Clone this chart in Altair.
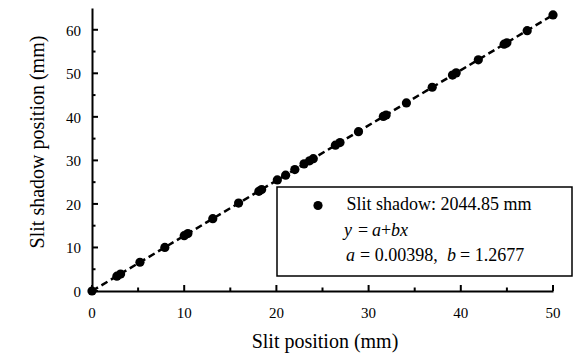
import altair as alt
import pandas as pd

# ---- data ----
slit_x = [0, 2.7, 3.1, 5.2, 7.9, 10.0, 10.4, 13.1, 15.9, 18.1, 18.4, 20.1, 21.0, 22.0,
          23.0, 23.6, 24.0, 26.4, 26.9, 28.9, 31.6, 31.9, 34.1, 36.9, 39.1, 39.5, 41.9,
          44.7, 45.0, 47.2, 50.0]
shadow_y = [0, 3.4, 3.9, 6.6, 10.0, 12.7, 13.2, 16.6, 20.2, 22.9, 23.3, 25.5, 26.6, 27.9,
            29.2, 29.9, 30.4, 33.5, 34.1, 36.6, 40.1, 40.4, 43.2, 46.8, 49.6, 50.1, 53.1,
            56.7, 57.0, 59.8, 63.4]
fit_x = [0, 50]
fit_y = [0.004, 63.39]

x_major = [0, 10, 20, 30, 40, 50]
x_minor = [5, 15, 25, 35, 45]
y_major = [0, 10, 20, 30, 40, 50, 60]
y_minor = [5, 15, 25, 35, 45, 55]

x_title = "Slit position (mm)"
y_title = "Slit shadow position (mm)"
legend_line1 = "Slit shadow: 2044.85 mm"

W, H = 461, 283
FONT = "Liberation Serif"

xs = alt.Scale(domain=[0, 50], nice=False, zero=False)
ys = alt.Scale(domain=[0, 65], nice=False, zero=False)

pts = pd.DataFrame({"x": slit_x, "y": shadow_y})
fit = pd.DataFrame({"x": fit_x, "y": fit_y})
one = pd.DataFrame({"d": [0]})

common = dict(ticks=False, grid=False, labels=False, title=None,
              domainColor="black", domainWidth=2)
x_axis = alt.Axis(values=x_major, **common)
y_axis = alt.Axis(values=y_major, **common)

fit_line = alt.Chart(fit).mark_line(color="black", strokeWidth=2.5, strokeDash=[7, 4]).encode(
    x=alt.X("x:Q", scale=xs, axis=x_axis), y=alt.Y("y:Q", scale=ys, axis=y_axis))

points = alt.Chart(pts).mark_circle(size=85, color="black", opacity=1).encode(
    x=alt.X("x:Q", scale=xs, axis=x_axis), y=alt.Y("y:Q", scale=ys, axis=y_axis))


def xticks(vals, length):
    return alt.Chart(pd.DataFrame({"x": vals})).mark_rule(color="black", strokeWidth=2).encode(
        x=alt.X("x:Q", scale=xs, axis=x_axis), y=alt.value(H), y2=alt.value(H - length))


def yticks(vals, length):
    return alt.Chart(pd.DataFrame({"y": vals})).mark_rule(color="black", strokeWidth=2).encode(
        y=alt.Y("y:Q", scale=ys, axis=y_axis), x=alt.value(0), x2=alt.value(length))


x_labels = alt.Chart(pd.DataFrame({"x": x_major})).mark_text(
    font=FONT, fontSize=15, color="black", align="center", baseline="alphabetic").encode(
    x=alt.X("x:Q", scale=xs, axis=x_axis), y=alt.value(H + 27), text=alt.Text("x:Q", format="d"))

y_labels = alt.Chart(pd.DataFrame({"y": y_major})).mark_text(
    font=FONT, fontSize=15, color="black", align="right", baseline="middle", dy=1).encode(
    y=alt.Y("y:Q", scale=ys, axis=y_axis), x=alt.value(-11), text=alt.Text("y:Q", format="d"))

x_title_mark = alt.Chart(one).mark_text(
    text=x_title, font=FONT, fontSize=20, color="black", align="center",
    baseline="alphabetic").encode(x=alt.value(233), y=alt.value(340))

y_title_mark = alt.Chart(one).mark_text(
    text=y_title, font=FONT, fontSize=20, color="black", align="center",
    baseline="alphabetic", angle=270).encode(x=alt.value(-48), y=alt.value(134))

legend_box = alt.Chart(one).mark_rect(fill="white", stroke="black", strokeWidth=1.5).encode(
    x=alt.value(185), x2=alt.value(480), y=alt.value(179), y2=alt.value(268))
legend_dot = alt.Chart(one).mark_circle(size=85, color="black", opacity=1).encode(
    x=alt.value(226), y=alt.value(197.5))


def txt(s, x, y, italic=False):
    return alt.Chart(one).mark_text(
        text=s, font=FONT, fontSize=18, fontStyle="italic" if italic else "normal",
        align="left", baseline="alphabetic", color="black").encode(
        x=alt.value(x), y=alt.value(y))


texts = [
    txt(legend_line1, 254.5, 202),
    txt("y", 252, 227.5, True),
    txt("=", 266, 227.5),
    txt("a", 280, 227.5, True),
    txt("+", 289, 227.5),
    txt("bx", 299, 227.5, True),
    txt("a", 254, 253, True),
    txt("= 0.00398,", 268, 253),
    txt("b", 355, 253, True),
    txt("= 1.2677", 368, 253),
]

chart = alt.layer(
    fit_line, points,
    xticks(x_major, 6), xticks(x_minor, 3.5),
    yticks(y_major, 6), yticks(y_minor, 3.5),
    x_labels, y_labels, x_title_mark, y_title_mark,
    legend_box, legend_dot, *texts,
).properties(
    width=W, height=H,
    autosize=alt.AutoSizeParams(type="none"),
    padding={"left": 92, "top": 8, "right": 24, "bottom": 65},
).configure_view(stroke=None)

chart.save("out.html", embed_options={"renderer": "svg", "actions": False})
